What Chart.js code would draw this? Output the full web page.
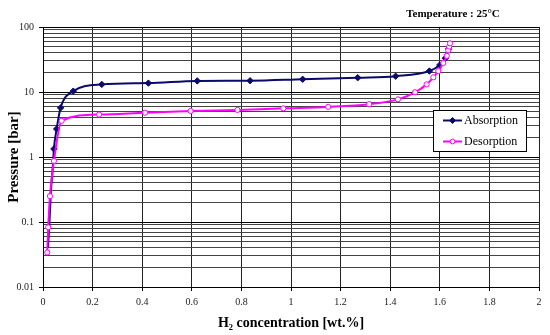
<!DOCTYPE html>
<html><head><meta charset="utf-8">
<script src="https://cdn.jsdelivr.net/npm/chart.js@4/dist/chart.umd.min.js"></script>
<style>html,body{margin:0;padding:0;background:#fff}</style>
</head><body>
<canvas id="c" width="550" height="335"></canvas>
<script>
// ---- data ----
const absorptionX = [0.020, 0.026, 0.032, 0.040, 0.044, 0.055, 0.071, 0.122, 0.237, 0.425, 0.622, 0.835, 1.047, 1.269, 1.422, 1.558, 1.600, 1.622, 1.635];
const absorptionY = [0.040, 0.10, 0.30, 0.75, 1.33, 2.7, 5.7, 10.3, 13.1, 13.7, 14.8, 14.9, 15.7, 16.6, 17.5, 21, 26, 33, 46];
const desorptionX = [0.017, 0.021, 0.028, 0.044, 0.075, 0.226, 0.411, 0.595, 0.784, 0.969, 1.150, 1.315, 1.431, 1.500, 1.547, 1.574, 1.594, 1.614, 1.628, 1.634, 1.638, 1.641];
const desorptionY = [0.034, 0.083, 0.25, 0.87, 3.6, 4.5, 4.8, 5.1, 5.3, 5.6, 5.9, 6.5, 7.7, 9.9, 13.1, 16.8, 21, 28, 36, 44, 50, 56];
const seriesNames = ["Absorption", "Desorption"];
const xTickValues = [0, 0.2, 0.4, 0.6, 0.8, 1, 1.2, 1.4, 1.6, 1.8, 2];
const yMajorTicks = [0.01, 0.1, 1, 10, 100];
const yTickLabels = ["0.01", "0.1", "1", "10", "100"];
const chartTitle = "Temperature : 25°C";
const xTitle = "H\u2082 concentration [wt.%]";
const yTitle = "Pressure [bar]";

const SERIF = "'Liberation Serif', 'Times New Roman', serif";
const NAVY = "#0a0a6e";
const MAGENTA = "#ff00ff";

const toPts = (xs, ys) => xs.map((x, i) => ({x: x, y: ys[i]}));

// all log gridline values (1..9 x each decade)
const yAllTicks = [];
yMajorTicks.forEach((m, i) => {
  if (i === yMajorTicks.length - 1) { yAllTicks.push(m); return; }
  for (let k = 1; k <= 9; k++) yAllTicks.push(+(m * k).toPrecision(3));
});
const isMajor = v => yMajorTicks.some(m => Math.abs(m - v) < m * 1e-6);

const extras = {
  id: 'extras',
  afterDraw(chart) {
    const ctx = chart.ctx;
    ctx.save();
    // title
    ctx.fillStyle = '#000';
    ctx.font = "bold 11px " + SERIF;
    ctx.textAlign = 'center';
    ctx.textBaseline = 'middle';
    ctx.fillText(chartTitle, 453, 14);
    // legend box
    const bx = 433.5, by = 110.5, bw = 93, bh = 41;
    ctx.fillStyle = '#fff';
    ctx.fillRect(bx, by, bw, bh);
    ctx.strokeStyle = '#000';
    ctx.lineWidth = 1;
    ctx.strokeRect(bx, by, bw, bh);
    const rows = [120.5, 141.5];
    chart.data.datasets.forEach((ds, i) => {
      const y = rows[i];
      ctx.strokeStyle = ds.borderColor;
      ctx.lineWidth = 2;
      ctx.beginPath(); ctx.moveTo(443, y); ctx.lineTo(462, y); ctx.stroke();
      ctx.fillStyle = ds.pointBackgroundColor;
      ctx.strokeStyle = ds.pointBorderColor;
      ctx.lineWidth = 1;
      ctx.beginPath();
      if (ds.pointStyle === 'rectRot') {
        const r = 3;
        ctx.moveTo(452.5, y - r); ctx.lineTo(452.5 + r, y); ctx.lineTo(452.5, y + r); ctx.lineTo(452.5 - r, y); ctx.closePath();
      } else {
        ctx.arc(452.5, y, 2.4, 0, Math.PI * 2);
      }
      ctx.fill(); ctx.stroke();
      ctx.fillStyle = '#000';
      ctx.font = "12px " + SERIF;
      ctx.textAlign = 'left';
      ctx.textBaseline = 'middle';
      ctx.fillText(ds.label, 464, y);
    });
    ctx.restore();
  }
};

new Chart(document.getElementById('c'), {
  type: 'scatter',
  data: {
    datasets: [
      {
        label: seriesNames[0],
        data: toPts(absorptionX, absorptionY),
        showLine: true,
        borderColor: NAVY,
        borderWidth: 2,
        pointStyle: 'rectRot',
        pointBackgroundColor: NAVY,
        pointBorderColor: NAVY,
        pointBorderWidth: 1,
        pointRadius: c => (c.raw && c.raw.y < 1) ? 0 : 3.2,
        cubicInterpolationMode: 'monotone',
        order: 1
      },
      {
        label: seriesNames[1],
        data: toPts(desorptionX, desorptionY),
        showLine: true,
        borderColor: MAGENTA,
        borderWidth: 2,
        pointStyle: 'circle',
        pointBackgroundColor: '#fff',
        pointBorderColor: MAGENTA,
        pointBorderWidth: 1,
        pointRadius: 2.6,
        cubicInterpolationMode: 'monotone',
        order: 0
      }
    ]
  },
  options: {
    responsive: false,
    animation: false,
    devicePixelRatio: 1,
    layout: { padding: { top: 27, right: 11, left: 0, bottom: 0 } },
    plugins: { legend: { display: false }, title: { display: false }, tooltip: { enabled: false } },
    scales: {
      x: {
        type: 'linear', min: 0, max: 2,
        afterBuildTicks: s => { s.ticks = xTickValues.map(v => ({ value: v })); },
        afterFit: s => { s.height = 48; },
        ticks: {
          autoSkip: false, maxRotation: 0, padding: 5, color: '#222',
          font: { family: SERIF, size: 10 },
          callback: v => String(v)
        },
        grid: { color: '#222', lineWidth: 1, tickLength: 4, tickColor: '#000' },
        border: { color: '#000', width: 1 },
        title: {
          display: true, text: xTitle, color: '#000',
          font: { family: SERIF, size: 14, weight: 'bold' },
          padding: { top: 0, bottom: 3 }
        }
      },
      y: {
        type: 'logarithmic', min: 0.01, max: 100,
        afterBuildTicks: s => { s.ticks = yAllTicks.map(v => ({ value: v, major: isMajor(v) })); },
        afterFit: s => { s.width = 43; },
        ticks: {
          autoSkip: false, padding: 5, color: '#222',
          font: { family: SERIF, size: 10 },
          callback: v => { const i = yMajorTicks.findIndex(m => Math.abs(m - v) < m * 1e-6); return i >= 0 ? yTickLabels[i] : ''; }
        },
        grid: {
          color: c => (c.tick && isMajor(c.tick.value)) ? '#000' : '#444',
          lineWidth: 1, tickLength: 4,
          tickColor: c => (c.tick && isMajor(c.tick.value)) ? '#000' : 'rgba(0,0,0,0)'
        },
        border: { color: '#000', width: 1 },
        title: {
          display: true, text: yTitle, color: '#000',
          font: { family: SERIF, size: 15, weight: 'bold' },
          padding: { top: 5, bottom: 0 }
        }
      }
    }
  },
  plugins: [extras]
});
</script>
</body></html>
